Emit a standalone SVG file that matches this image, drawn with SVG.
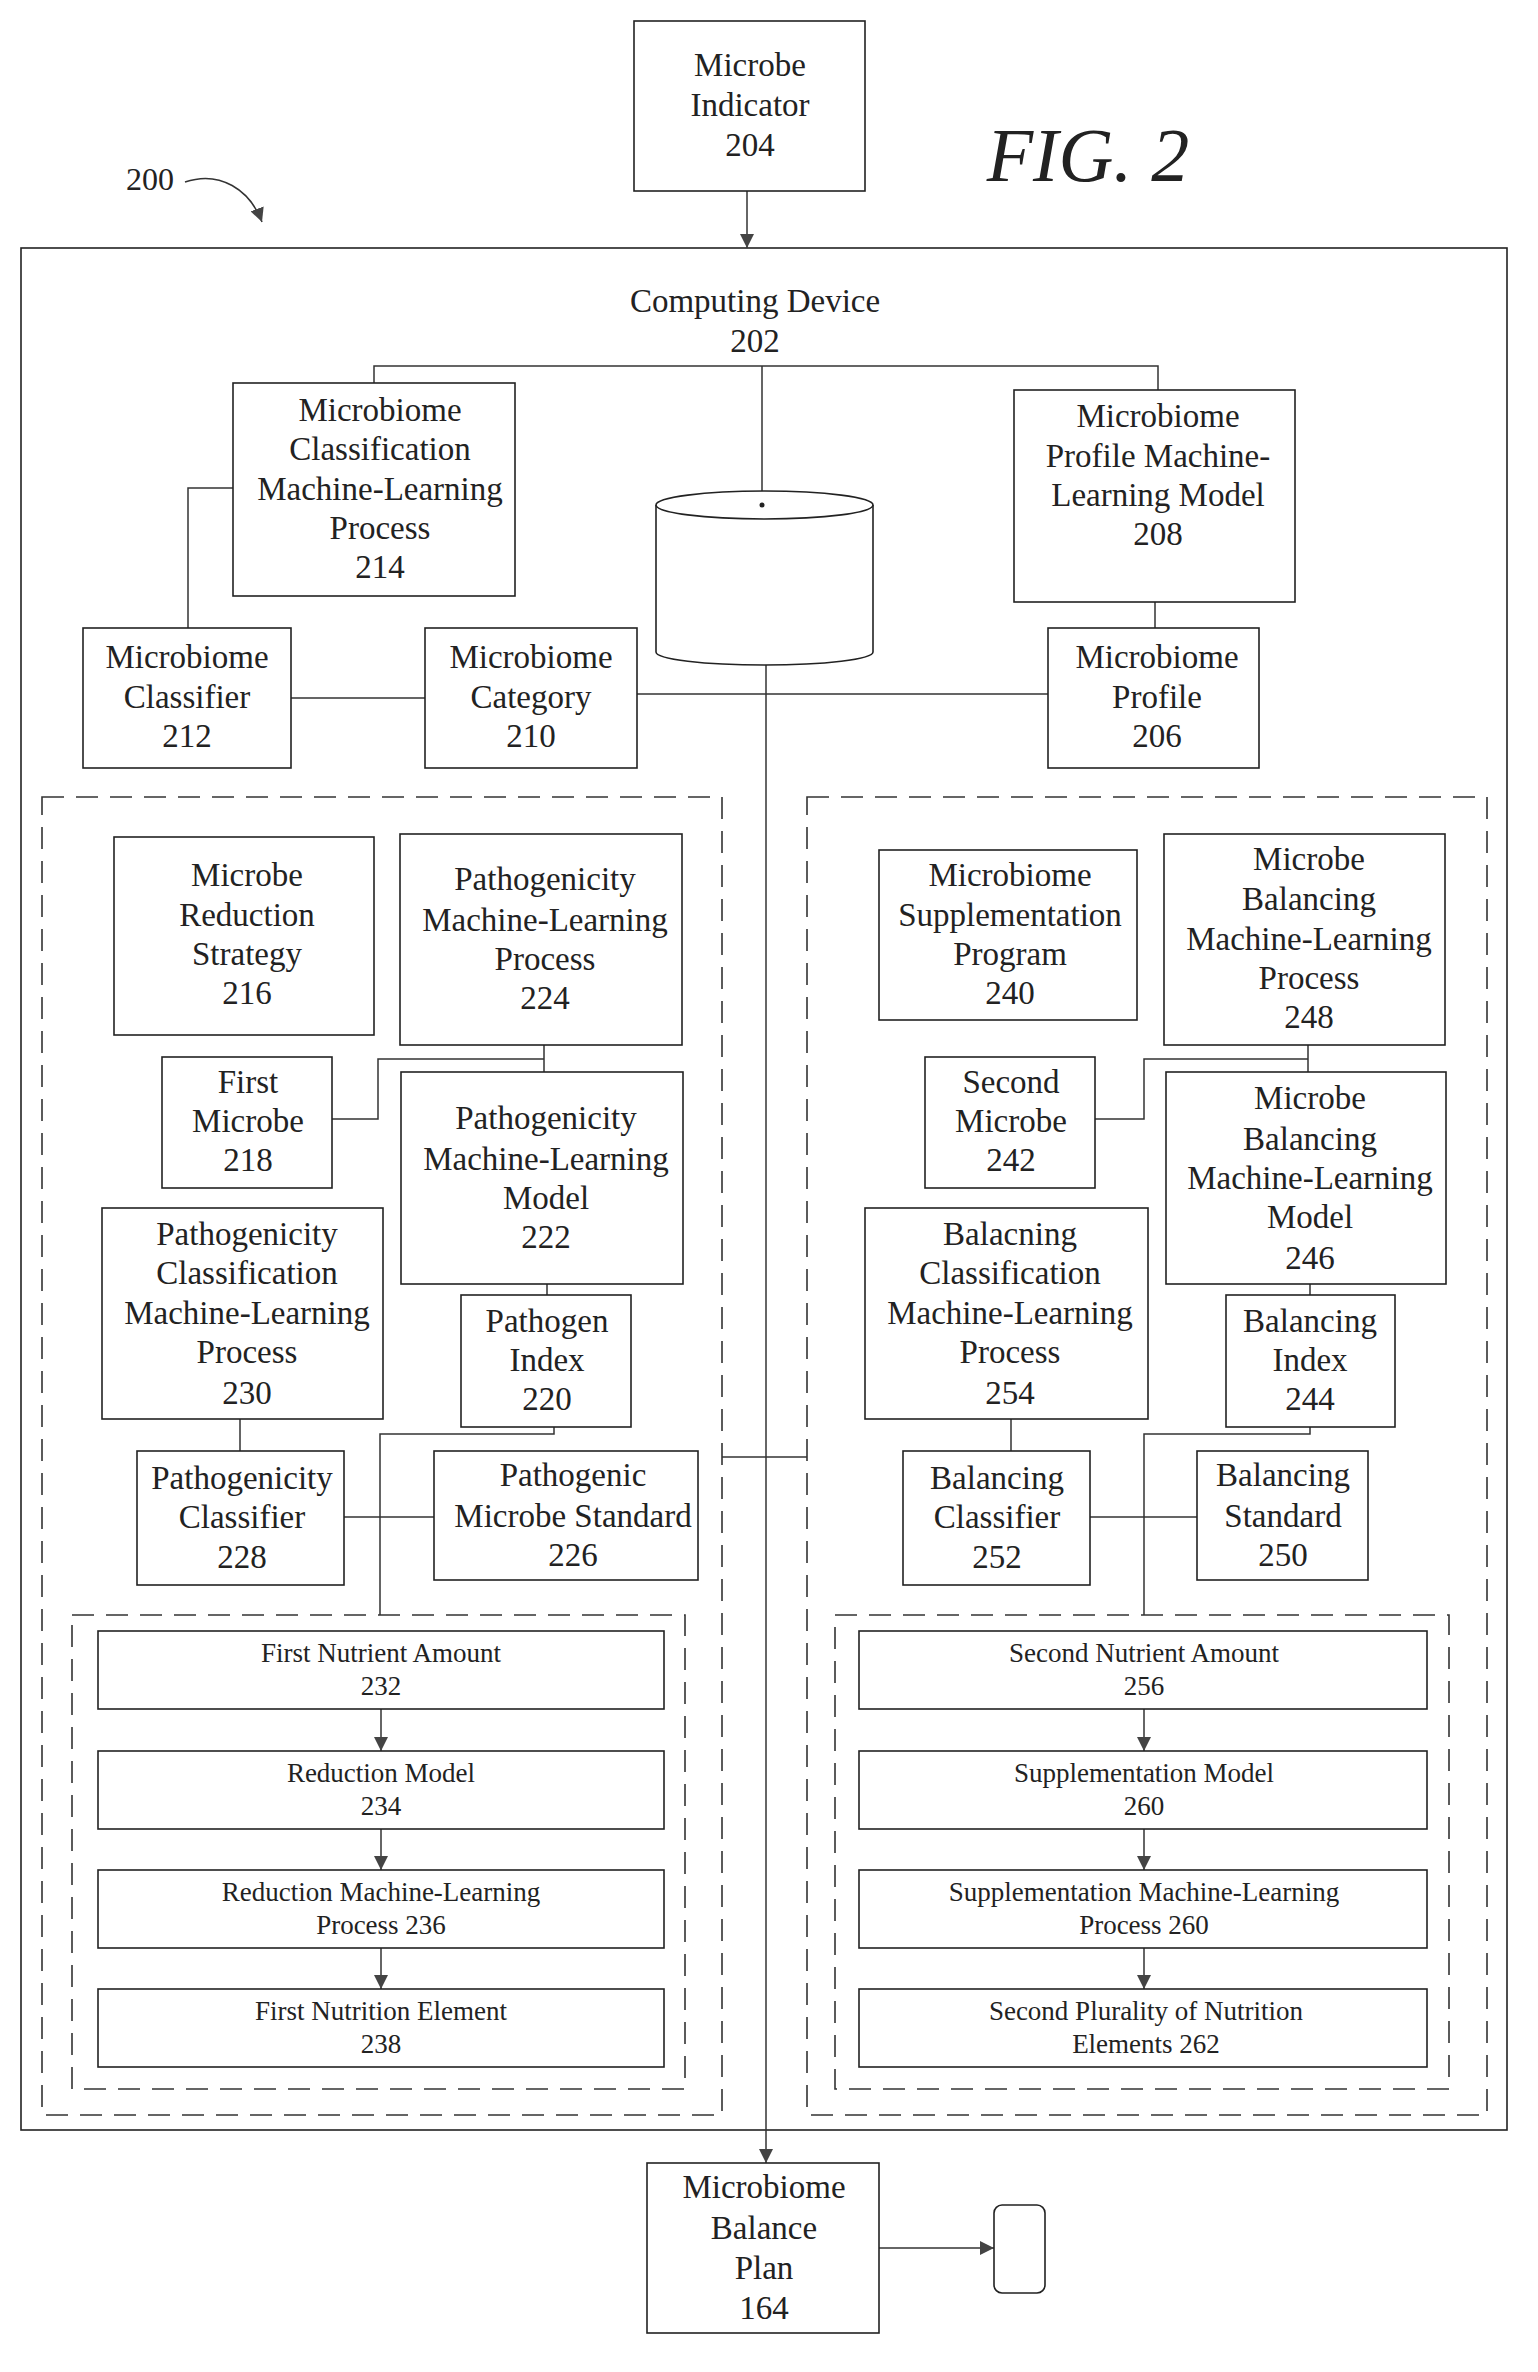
<svg xmlns="http://www.w3.org/2000/svg" width="1538" height="2372" viewBox="0 0 1538 2372" font-family="Liberation Serif, Times New Roman, serif">
<style>
.b{fill:#fff;stroke:#222;stroke-width:1.6}
.d{fill:none;stroke:#333;stroke-width:1.6;stroke-dasharray:22 12}
.c{fill:none;stroke:#333;stroke-width:1.5}
text{fill:#222;text-anchor:middle}
.t{font-size:33px}
.s{font-size:27px}
</style>
<defs>
<marker id="a" viewBox="0 0 10 10" refX="10" refY="5" markerWidth="14" markerHeight="14" markerUnits="userSpaceOnUse" orient="auto"><path d="M0,0L10,5L0,10z" fill="#444"/></marker>
</defs>
<text x="1088" y="181" style="font-size:76px;font-style:italic">FIG. 2</text>
<text x="150" y="190" style="font-size:32px">200</text>
<path class="c" d="M185,182 C220,170 250,190 262,222" marker-end="url(#a)"/>
<rect class="b" x="21" y="248" width="1486" height="1882"/>
<text class="t" x="755" y="312">Computing Device</text>
<text class="t" x="755" y="352">202</text>
<rect class="d" x="42" y="797" width="680" height="1318"/>
<rect class="d" x="807" y="797" width="680" height="1318"/>
<rect class="d" x="72" y="1615" width="613" height="474"/>
<rect class="d" x="835" y="1615" width="614" height="474"/>
<g id="connectors">
<path class="c" d="M747,191V248" marker-end="url(#a)"/>
<path class="c" d="M374,383V366H1158V390M762,366V505"/>
<path class="c" d="M188,628V488H233M291,698H425M637,694H1048M1155,602V628"/>
<path class="c" d="M766,652V2163" marker-end="url(#a)"/>
<path class="c" d="M722,1457H807"/>
<path class="c" d="M544,1045V1072M544,1059H378V1119H332M547,1284V1295M240,1419V1451M344,1517H434M554,1427V1434H380V1615"/>
<path class="c" d="M1308,1045V1072M1308,1059H1144V1119H1095M1310,1284V1295M1011,1419V1451M1090,1517H1197M1310,1427V1434H1144V1615"/>
<path class="c" d="M381,1709V1751" marker-end="url(#a)"/>
<path class="c" d="M381,1829V1870" marker-end="url(#a)"/>
<path class="c" d="M381,1948V1989" marker-end="url(#a)"/>
<path class="c" d="M1144,1709V1751" marker-end="url(#a)"/>
<path class="c" d="M1144,1829V1870" marker-end="url(#a)"/>
<path class="c" d="M1144,1948V1989" marker-end="url(#a)"/>
<path class="c" d="M879,2248H994" marker-end="url(#a)"/>
</g>
<g id="n204"><rect class="b" x="634" y="21" width="231" height="170"/><text class="t" x="750" y="76">Microbe</text><text class="t" x="750" y="116">Indicator</text><text class="t" x="750" y="156">204</text></g>
<g id="n214"><rect class="b" x="233" y="383" width="282" height="213"/><text class="t" x="380" y="421">Microbiome</text><text class="t" x="380" y="460">Classification</text><text class="t" x="380" y="500">Machine-Learning</text><text class="t" x="380" y="539">Process</text><text class="t" x="380" y="578">214</text></g>
<g id="n208"><rect class="b" x="1014" y="390" width="281" height="212"/><text class="t" x="1158" y="427">Microbiome</text><text class="t" x="1158" y="467">Profile Machine-</text><text class="t" x="1158" y="506">Learning Model</text><text class="t" x="1158" y="545">208</text></g>
<g id="db"><path class="b" d="M656,505V652A108.5,13 0 0 0 873,652V505"/><ellipse class="b" cx="764.5" cy="505" rx="108.5" ry="14"/><circle cx="762" cy="505" r="2.5" fill="#222"/></g>
<g id="n212"><rect class="b" x="83" y="628" width="208" height="140"/><text class="t" x="187" y="668">Microbiome</text><text class="t" x="187" y="708">Classifier</text><text class="t" x="187" y="747">212</text></g>
<g id="n210"><rect class="b" x="425" y="628" width="212" height="140"/><text class="t" x="531" y="668">Microbiome</text><text class="t" x="531" y="708">Category</text><text class="t" x="531" y="747">210</text></g>
<g id="n206"><rect class="b" x="1048" y="628" width="211" height="140"/><text class="t" x="1157" y="668">Microbiome</text><text class="t" x="1157" y="708">Profile</text><text class="t" x="1157" y="747">206</text></g>
<g id="n216"><rect class="b" x="114" y="837" width="260" height="198"/><text class="t" x="247" y="886">Microbe</text><text class="t" x="247" y="926">Reduction</text><text class="t" x="247" y="965">Strategy</text><text class="t" x="247" y="1004">216</text></g>
<g id="n224"><rect class="b" x="400" y="834" width="282" height="211"/><text class="t" x="545" y="890">Pathogenicity</text><text class="t" x="545" y="931">Machine-Learning</text><text class="t" x="545" y="970">Process</text><text class="t" x="545" y="1009">224</text></g>
<g id="n218"><rect class="b" x="162" y="1057" width="170" height="131"/><text class="t" x="248" y="1093">First</text><text class="t" x="248" y="1132">Microbe</text><text class="t" x="248" y="1171">218</text></g>
<g id="n222"><rect class="b" x="401" y="1072" width="282" height="212"/><text class="t" x="546" y="1129">Pathogenicity</text><text class="t" x="546" y="1170">Machine-Learning</text><text class="t" x="546" y="1209">Model</text><text class="t" x="546" y="1248">222</text></g>
<g id="n230"><rect class="b" x="102" y="1208" width="281" height="211"/><text class="t" x="247" y="1245">Pathogenicity</text><text class="t" x="247" y="1284">Classification</text><text class="t" x="247" y="1324">Machine-Learning</text><text class="t" x="247" y="1363">Process</text><text class="t" x="247" y="1404">230</text></g>
<g id="n220"><rect class="b" x="461" y="1295" width="170" height="132"/><text class="t" x="547" y="1332">Pathogen</text><text class="t" x="547" y="1371">Index</text><text class="t" x="547" y="1410">220</text></g>
<g id="n228"><rect class="b" x="137" y="1451" width="207" height="134"/><text class="t" x="242" y="1489">Pathogenicity</text><text class="t" x="242" y="1528">Classifier</text><text class="t" x="242" y="1568">228</text></g>
<g id="n226"><rect class="b" x="434" y="1451" width="264" height="129"/><text class="t" x="573" y="1486">Pathogenic</text><text class="t" x="573" y="1527">Microbe Standard</text><text class="t" x="573" y="1566">226</text></g>
<g id="n240"><rect class="b" x="879" y="850" width="258" height="170"/><text class="t" x="1010" y="886">Microbiome</text><text class="t" x="1010" y="926">Supplementation</text><text class="t" x="1010" y="965">Program</text><text class="t" x="1010" y="1004">240</text></g>
<g id="n248"><rect class="b" x="1164" y="834" width="281" height="211"/><text class="t" x="1309" y="870">Microbe</text><text class="t" x="1309" y="910">Balancing</text><text class="t" x="1309" y="950">Machine-Learning</text><text class="t" x="1309" y="989">Process</text><text class="t" x="1309" y="1028">248</text></g>
<g id="n242"><rect class="b" x="925" y="1057" width="170" height="131"/><text class="t" x="1011" y="1093">Second</text><text class="t" x="1011" y="1132">Microbe</text><text class="t" x="1011" y="1171">242</text></g>
<g id="n246"><rect class="b" x="1166" y="1072" width="280" height="212"/><text class="t" x="1310" y="1109">Microbe</text><text class="t" x="1310" y="1150">Balancing</text><text class="t" x="1310" y="1189">Machine-Learning</text><text class="t" x="1310" y="1228">Model</text><text class="t" x="1310" y="1269">246</text></g>
<g id="n254"><rect class="b" x="865" y="1208" width="283" height="211"/><text class="t" x="1010" y="1245">Balacning</text><text class="t" x="1010" y="1284">Classification</text><text class="t" x="1010" y="1324">Machine-Learning</text><text class="t" x="1010" y="1363">Process</text><text class="t" x="1010" y="1404">254</text></g>
<g id="n244"><rect class="b" x="1226" y="1295" width="169" height="132"/><text class="t" x="1310" y="1332">Balancing</text><text class="t" x="1310" y="1371">Index</text><text class="t" x="1310" y="1410">244</text></g>
<g id="n252"><rect class="b" x="903" y="1451" width="187" height="134"/><text class="t" x="997" y="1489">Balancing</text><text class="t" x="997" y="1528">Classifier</text><text class="t" x="997" y="1568">252</text></g>
<g id="n250"><rect class="b" x="1197" y="1451" width="171" height="129"/><text class="t" x="1283" y="1486">Balancing</text><text class="t" x="1283" y="1527">Standard</text><text class="t" x="1283" y="1566">250</text></g>
<g id="n232"><rect class="b" x="98" y="1631" width="566" height="78"/><text class="s" x="381" y="1662">First Nutrient Amount</text><text class="s" x="381" y="1695">232</text></g>
<g id="n234"><rect class="b" x="98" y="1751" width="566" height="78"/><text class="s" x="381" y="1782">Reduction Model</text><text class="s" x="381" y="1815">234</text></g>
<g id="n236"><rect class="b" x="98" y="1870" width="566" height="78"/><text class="s" x="381" y="1901">Reduction Machine-Learning</text><text class="s" x="381" y="1934">Process 236</text></g>
<g id="n238"><rect class="b" x="98" y="1989" width="566" height="78"/><text class="s" x="381" y="2020">First Nutrition Element</text><text class="s" x="381" y="2053">238</text></g>
<g id="n256"><rect class="b" x="859" y="1631" width="568" height="78"/><text class="s" x="1144" y="1662">Second Nutrient Amount</text><text class="s" x="1144" y="1695">256</text></g>
<g id="n260a"><rect class="b" x="859" y="1751" width="568" height="78"/><text class="s" x="1144" y="1782">Supplementation Model</text><text class="s" x="1144" y="1815">260</text></g>
<g id="n260b"><rect class="b" x="859" y="1870" width="568" height="78"/><text class="s" x="1144" y="1901">Supplementation Machine-Learning</text><text class="s" x="1144" y="1934">Process 260</text></g>
<g id="n262"><rect class="b" x="859" y="1989" width="568" height="78"/><text class="s" x="1146" y="2020">Second Plurality of Nutrition</text><text class="s" x="1146" y="2053">Elements 262</text></g>
<g id="n164"><rect class="b" x="647" y="2163" width="232" height="170"/><text class="t" x="764" y="2198">Microbiome</text><text class="t" x="764" y="2239">Balance</text><text class="t" x="764" y="2279">Plan</text><text class="t" x="764" y="2319">164</text></g>
<g id="phone"><rect class="b" x="994" y="2205" width="51" height="88" rx="8"/></g>
</svg>
